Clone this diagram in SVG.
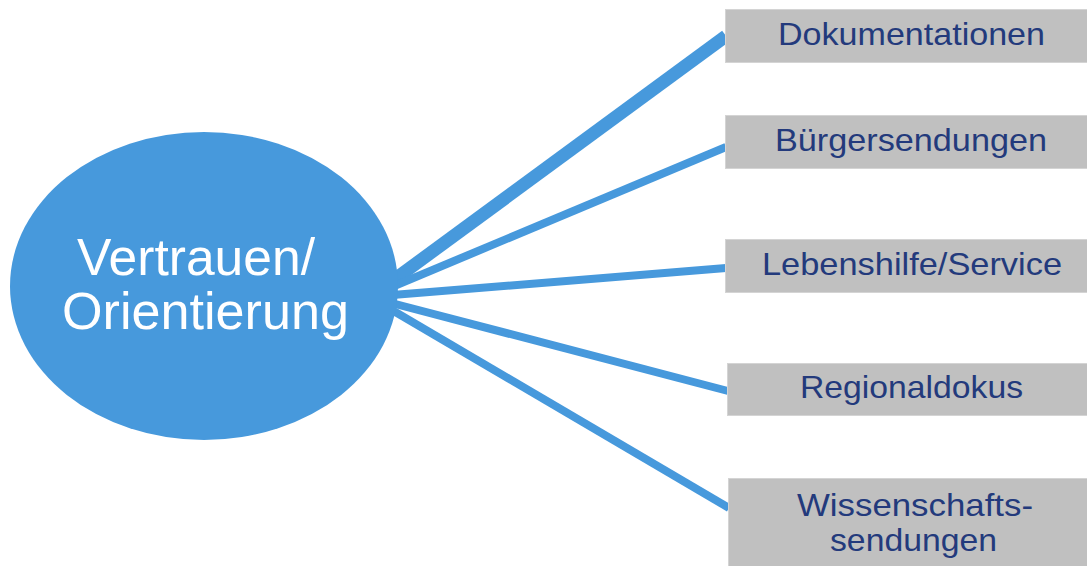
<svg xmlns="http://www.w3.org/2000/svg" width="1087" height="566" viewBox="0 0 1087 566">
<style>
.box{fill:#c0c0c0;stroke:#d4d4d4;stroke-width:1}
.lbl{font-family:"Liberation Sans",Arial,sans-serif;font-size:32px;fill:#233a7c}
.ctr{font-family:"Liberation Sans",Arial,sans-serif;font-size:52px;fill:#ffffff}
.con{stroke:#4799dc;fill:none;stroke-linecap:butt}
</style>
<rect width="1087" height="566" fill="#ffffff"/>
<g id="connectors">
<line class="con" x1="380" y1="290" x2="726" y2="36" stroke-width="13"/>
<line class="con" x1="380" y1="292" x2="726" y2="147" stroke-width="8"/>
<line class="con" x1="380" y1="296" x2="726" y2="268" stroke-width="8"/>
<line class="con" x1="380" y1="300" x2="728" y2="391" stroke-width="8"/>
<line class="con" x1="380" y1="303" x2="729" y2="508" stroke-width="8"/>
</g>
<g id="center">
<ellipse cx="204" cy="286" rx="194" ry="154" fill="#4799dc"/>
<text class="ctr" x="77" y="275" textLength="238" lengthAdjust="spacingAndGlyphs">Vertrauen/</text>
<text class="ctr" x="62" y="329" textLength="287" lengthAdjust="spacingAndGlyphs">Orientierung</text>
</g>
<g id="n1">
<rect class="box" x="725.5" y="9.5" width="370" height="53"/>
<text class="lbl" x="778" y="45" textLength="267" lengthAdjust="spacingAndGlyphs">Dokumentationen</text>
</g>
<g id="n2">
<rect class="box" x="725.5" y="115.5" width="370" height="53"/>
<text class="lbl" x="775" y="151" textLength="272" lengthAdjust="spacingAndGlyphs">Bürgersendungen</text>
</g>
<g id="n3">
<rect class="box" x="725.5" y="239.5" width="370" height="53"/>
<text class="lbl" x="762" y="275" textLength="300" lengthAdjust="spacingAndGlyphs">Lebenshilfe/Service</text>
</g>
<g id="n4">
<rect class="box" x="727.5" y="363.5" width="370" height="52"/>
<text class="lbl" x="800" y="398" textLength="223" lengthAdjust="spacingAndGlyphs">Regionaldokus</text>
</g>
<g id="n5">
<rect class="box" x="728.5" y="478.5" width="370" height="100"/>
<text class="lbl" x="797" y="516" textLength="236" lengthAdjust="spacingAndGlyphs">Wissenschafts-</text>
<text class="lbl" x="830" y="551" textLength="167" lengthAdjust="spacingAndGlyphs">sendungen</text>
</g>
</svg>
